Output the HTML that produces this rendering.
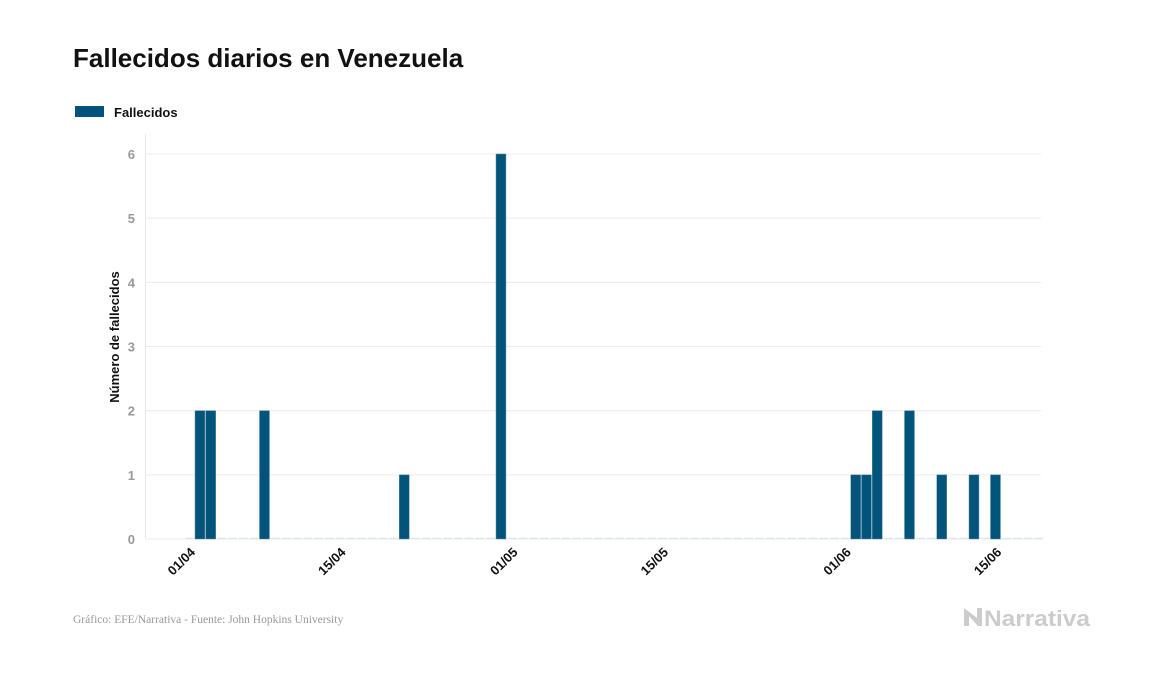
<!DOCTYPE html>
<html><head><meta charset="utf-8"><style>
body{margin:0;background:#fff;width:1157px;height:674px;overflow:hidden;font-family:"Liberation Sans",sans-serif}
svg{position:absolute;left:0;top:0}
</style></head><body>
<svg id="c" width="1157" height="674">
<text x="73" y="67" font-size="26" font-weight="bold" fill="#111">Fallecidos diarios en Venezuela</text>
<g>
<rect x="75" y="106" width="29" height="11" fill="#02547b"/>
<text x="114" y="117" font-size="13" font-weight="bold" fill="#111">Fallecidos</text>
</g>
<text transform="translate(119,337) rotate(-90)" text-anchor="middle" font-size="13" font-weight="bold" fill="#111">Número de fallecidos</text>
<line x1="145.5" y1="134" x2="145.5" y2="539" stroke="#e8e8e8"/>
<text x="73" y="623" font-family="Liberation Serif" font-size="11.5" fill="#999">Gráfico: EFE/Narrativa - Fuente: John Hopkins University</text>
<g><path d="M964 608 l0 18 l5 0 l0 -10 l9 10 l4 0 l0 -18 l-5 0 l0 10 z" fill="#ccc"/><text x="984" y="626" font-size="22" font-weight="bold" fill="#ccc" textLength="106" lengthAdjust="spacingAndGlyphs">Narrativa</text></g>
<g id="grid"></g><g id="bars"></g><g id="xt"></g>
</svg>
<script>
const yTicks=[0,1,2,3,4,5,6];
const xTickLabels=["01/04","15/04","01/05","15/05","01/06","15/06"];
const xTickDays=[0,14,30,44,61,75];
const barDays=[0,1,6,19,28,61,62,63,66,69,72,74];
const barValues=[2,2,2,1,6,1,1,2,2,1,1,1];
const firstDay=-1, lastDay=78;
const NS="http://www.w3.org/2000/svg";
const X0=195, DW=10.75, Y0=539, YU=64.17;
const xs=d=>X0+d*DW, ys=v=>Y0-v*YU;
function mk(t,a,p){const e=document.createElementNS(NS,t);for(const k in a)e.setAttribute(k,a[k]);document.getElementById(p).appendChild(e);return e;}
yTicks.forEach(v=>{
 const l=mk('line',{x1:146,x2:1041,y1:ys(v),y2:ys(v),stroke:'#ececec'},'grid');
 
 
 const t=mk('text',{x:135,y:ys(v)+5,'text-anchor':'end','font-size':13,'font-weight':'bold',fill:'#999'},'grid');
 t.textContent=v;
 
 
});
for(let d=firstDay;d<=lastDay;d++){
 if(barDays.includes(d))continue;
 const z=mk('line',{x1:xs(d)+1,x2:xs(d)+DW-1,y1:Y0-0.5,y2:Y0-0.5,stroke:'#dde4ea','stroke-width':1.5},'bars');
 
 
}
barDays.forEach((d,i)=>{
 const r=mk('rect',{x:xs(d),y:ys(barValues[i]),width:DW-0.8,height:barValues[i]*YU,fill:'#02547b',stroke:'#5e8fab','stroke-width':0.5},'bars');
 
 
});
xTickLabels.forEach((s,i)=>{
 const x=xs(xTickDays[i]);
 const t=mk('text',{x:0,y:0,'text-anchor':'end','font-size':13,'font-weight':'bold',fill:'#111',transform:`translate(${x+1},${553}) rotate(-45)`},'xt');
 t.textContent=s;
 
 
});
</script>
</body></html>
